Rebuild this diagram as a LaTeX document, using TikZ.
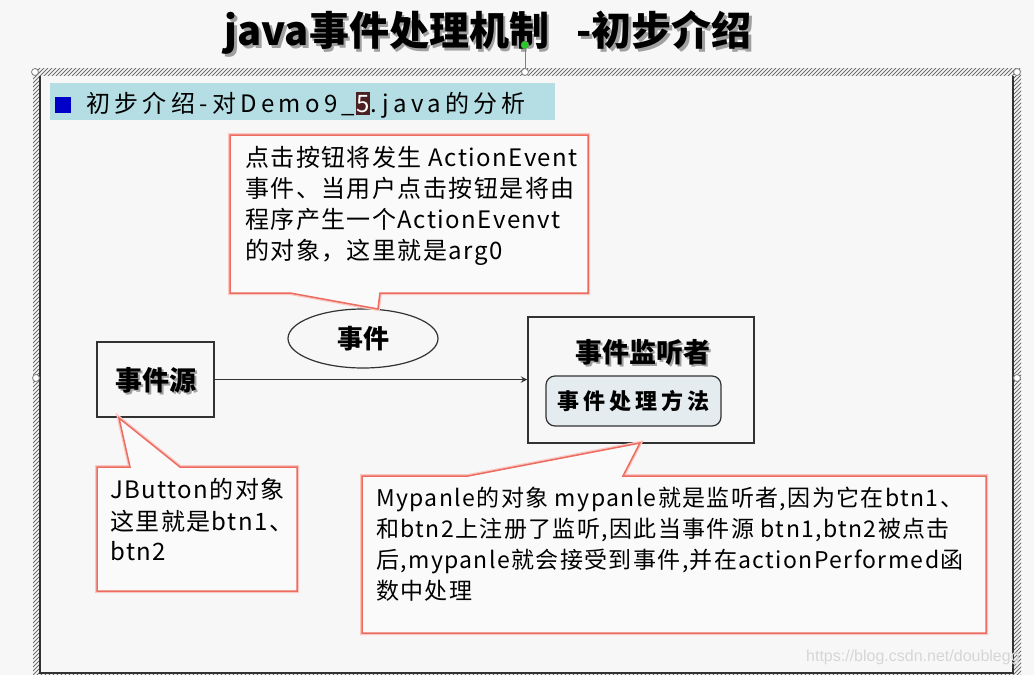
\documentclass[tikz,border=0pt]{standalone}
\usepackage{fontspec}
\setmainfont{Noto Sans CJK SC}
\newfontfamily\cjk{Noto Sans CJK SC}
\newfontfamily\cjkls[LetterSpace=6]{Noto Sans CJK SC}
\newfontfamily\cjkhdr[LetterSpace=18]{Noto Sans CJK SC}
\newfontfamily\cjkwide[LetterSpace=18]{Noto Sans CJK SC}
\newfontfamily\wmfont{Liberation Sans}
\usetikzlibrary{shapes.geometric}
\definecolor{bg}{RGB}{247,247,248}
\definecolor{calloutred}{RGB}{236,108,96}
\definecolor{glow}{RGB}{250,200,195}
\definecolor{boxline}{RGB}{50,50,50}
\definecolor{hdrbar}{RGB}{180,222,227}
\definecolor{hdrblue}{RGB}{0,0,200}
\definecolor{inner}{RGB}{228,236,240}
\definecolor{hatch}{RGB}{110,110,110}
\definecolor{selbrown}{RGB}{75,32,32}
\definecolor{handlegreen}{RGB}{40,200,40}
\definecolor{wm}{RGB}{214,214,214}
\definecolor{shadowgray}{RGB}{160,160,160}
% text with a drop shadow, in one box
\newcommand{\shadowtext}[2]{\makebox[0pt][l]{\kern#1\raisebox{-#1}{\textcolor{shadowgray}{#2}}}#2}
\tikzset{
  txt/.style={inner sep=0pt, anchor=base west, font=\cjkls\fontsize{24}{24}\selectfont},
  txtb/.style={inner sep=0pt, anchor=base west, font=\cjkls\fontsize{23}{23}\selectfont},
  callout/.style={draw=calloutred, line width=1.5pt, fill=bg!60!white, line join=miter},
  calloutglow/.style={draw=glow, line width=4pt},
  blackbox/.style={draw=boxline, line width=1.5pt, fill=bg},
  handle/.style={circle, draw=gray, fill=white, line width=0.8pt, minimum size=7pt, inner sep=0pt},
  boldlabel/.style={inner sep=0pt, font=\cjk\bfseries\fontsize{27}{27}\selectfont},
}
\begin{document}
\begin{tikzpicture}[x=1pt,y=-1pt]
\useasboundingbox (0,0) rectangle (1034,675);
\fill[bg] (0,0) rectangle (1034,675);

% title with shadow
\node[inner sep=0pt, text=black, font=\cjk\bfseries\fontsize{40}{40}\selectfont] (title) at (488,34)
  {\shadowtext{3pt}{java事件处理机制\ \ \ -初步介绍}};

% hatched selection frame
\begin{scope}
  \clip (33,68) rectangle (1021,680);
  \foreach \c in {100,104,...,1720} {
    \draw[hatch, line width=1pt] (\c-720,720) -- (\c,0);
  }
\end{scope}
\fill[bg] (40,76) rectangle (1013,673);
\draw[boxline, line width=1.5pt] (40,76) -- (40,673) -- (1013,673) -- (1013,76);

% handles
\draw[gray, line width=0.8pt] (525,49) -- (525,69);
\node[handle] (h1) at (35,72) {};
\node[handle] (h2) at (525,72) {};
\node[handle] (h3) at (1017,72) {};
\node[handle] (h4) at (36,378) {};
\node[handle] (h5) at (1017,378) {};
\node[circle, draw=gray, fill=handlegreen, minimum size=8pt, inner sep=0pt] (hg) at (525,45) {};

% header bar
\fill[hdrbar] (50,83) rectangle (555,120);
\fill[hdrblue] (55,97) rectangle (71,113);
\node[inner sep=0pt, anchor=base west, font=\cjkhdr\fontsize{24}{24}\selectfont] (hdr) at (86,112)
  {初步介绍-对Demo9\_\kern1pt\colorbox{selbrown}{\kern-3pt\textcolor{white}{5}\kern-3pt}\kern1pt.java的分析};

% event source
\node[blackbox, minimum width=117pt, minimum height=75pt] (src) at (155.5,379.5) {};
\node[boldlabel] (srclbl) at (156,381) {\shadowtext{2pt}{事件源}};

% event ellipse
\node[ellipse, draw=boxline, line width=1.2pt, fill=bg, minimum width=150pt, minimum height=59pt, inner sep=0pt,
      font=\cjk\bfseries\fontsize{26}{26}\selectfont] (evt) at (363,338.5) {事件};

% listener
\node[blackbox, minimum width=226pt, minimum height=126pt] (lis) at (641,380) {};
\node[boldlabel] (lislbl) at (643,353) {\shadowtext{2pt}{事件监听者}};
\node[draw=boxline, line width=1.2pt, fill=inner, rounded corners=9pt, minimum width=175pt, minimum height=50pt,
      inner sep=0pt, font=\cjkwide\bfseries\fontsize{22}{22}\selectfont] (handler) at (633.5,401) {事件处理方法};

% arrow
\draw[boxline, line width=1.8pt, -stealth] (src.east) -- (src.east -| lis.west);

% callout 1
\draw[calloutglow] (230,135) -- (588,135) -- (588,293) -- (380,293) -- (378,309) -- (290,293) -- (230,293) -- cycle;
\draw[callout] (230,135) -- (588,135) -- (588,293) -- (380,293) -- (378,309) -- (290,293) -- (230,293) -- cycle;
\node[txt] (c1a) at (245,166) {点击按钮将发生 ActionEvent};
\node[txt] (c1b) at (245,197) {事件、当用户点击按钮是将由};
\node[txt] (c1c) at (245,228) {程序产生一个ActionEvenvt};
\node[txt] (c1d) at (245,259) {的对象，这里就是arg0};

% callout 2
\draw[calloutglow] (97,467) -- (130,467) -- (119,418) -- (180,467) -- (297,467) -- (297,591) -- (97,591) -- cycle;
\draw[callout] (97,467) -- (130,467) -- (119,418) -- (180,467) -- (297,467) -- (297,591) -- (97,591) -- cycle;
\node[txt] (c2a) at (110,498) {JButton的对象};
\node[txt] (c2b) at (110,530) {这里就是btn1、};
\node[txt] (c2c) at (110,560) {btn2};

% callout 3
\draw[calloutglow] (362,476) -- (468,476) -- (640,443) -- (623,476) -- (986,476) -- (986,633) -- (362,633) -- cycle;
\draw[callout] (362,476) -- (468,476) -- (640,443) -- (623,476) -- (986,476) -- (986,633) -- (362,633) -- cycle;
\node[txtb] (c3a) at (376,506) {Mypanle的对象 mypanle就是监听者,因为它在btn1、};
\node[txtb] (c3b) at (376,537) {和btn2上注册了监听,因此当事件源 btn1,btn2被点击};
\node[txtb] (c3c) at (376,568) {后,mypanle就会接受到事件,并在actionPerformed函};
\node[txtb] (c3d) at (376,599) {数中处理};

% watermark
\node[inner sep=0pt, anchor=base west, text=wm, font=\wmfont\fontsize{16}{16}\selectfont] (wmk) at (806,661) {https://blog.csdn.net/doublegg};
\end{tikzpicture}
\end{document}
